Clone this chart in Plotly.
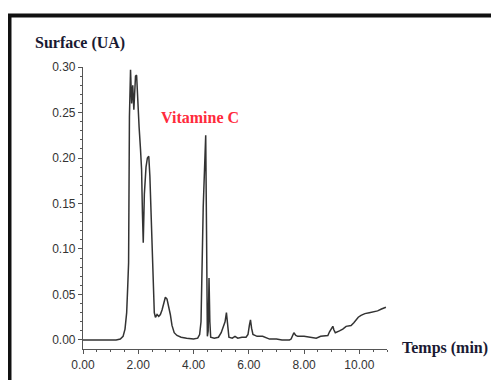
import plotly.graph_objects as go

time_min = [0.0, 1.2, 1.35, 1.45, 1.52, 1.58, 1.62, 1.65, 1.68, 1.72, 1.76, 1.80, 1.84, 1.90, 1.94,
            1.98, 2.03, 2.08, 2.12, 2.15, 2.18, 2.22, 2.28, 2.33, 2.38, 2.42, 2.45, 2.50, 2.53,
            2.58, 2.62, 2.68, 2.74, 2.80, 2.86, 2.92, 2.98, 3.04, 3.10, 3.16, 3.22, 3.30, 3.40,
            3.55, 3.75, 4.0, 4.15, 4.22, 4.27, 4.30, 4.35, 4.40, 4.44, 4.47, 4.50, 4.53, 4.56,
            4.59, 4.62, 4.75, 4.90, 5.0, 5.08, 5.14, 5.19, 5.23, 5.28, 5.40, 5.50, 5.60, 5.75,
            5.90, 5.97, 6.02, 6.06, 6.10, 6.15, 6.3, 6.5, 6.75, 7.0, 7.2, 7.47, 7.53, 7.63,
            7.70, 7.77, 8.0, 8.25, 8.44, 8.6, 8.86, 8.92, 9.0, 9.04, 9.08, 9.13, 9.28, 9.4,
            9.52, 9.7, 9.8, 9.88, 9.96, 10.06, 10.2, 10.36, 10.5, 10.66, 10.8, 10.96]
surface_ua = [0.0, 0.0, 0.001, 0.004, 0.012, 0.03, 0.06, 0.085, 0.245, 0.297, 0.26, 0.28, 0.253, 0.29, 0.291,
              0.26, 0.234, 0.21, 0.187, 0.14, 0.107, 0.16, 0.19, 0.2, 0.202, 0.18, 0.15, 0.09, 0.06,
              0.03, 0.025, 0.028, 0.026, 0.028, 0.033, 0.042, 0.047, 0.045, 0.037, 0.028, 0.016, 0.008, 0.005,
              0.003, 0.002, 0.001, 0.002, 0.006, 0.02, 0.074, 0.146, 0.19, 0.225, 0.12, 0.004, 0.01, 0.068,
              0.02, 0.003, 0.002, 0.003, 0.008, 0.014, 0.02, 0.03, 0.018, 0.003, 0.002, 0.004, 0.002, 0.003,
              0.003, 0.006, 0.016, 0.022, 0.013, 0.006, 0.004, 0.004, 0.001, 0.001, 0.0, 0.0, 0.001, 0.008,
              0.005, 0.004, 0.004, 0.003, 0.002, 0.004, 0.005, 0.009, 0.013, 0.015, 0.011, 0.008, 0.01, 0.012,
              0.015, 0.016, 0.019, 0.022, 0.025, 0.027, 0.029, 0.03, 0.031, 0.032, 0.034, 0.036]
x_ticks = [0, 2, 4, 6, 8, 10]
y_ticks = [0.0, 0.05, 0.10, 0.15, 0.20, 0.25, 0.30]

fig = go.Figure()
fig.add_trace(go.Scatter(x=time_min, y=surface_ua, mode="lines",
                         line=dict(color="#333333", width=1.5), showlegend=False))

tick_font = dict(family="Liberation Sans, Arial, sans-serif", size=12, color="#333333")
fig.update_layout(
    width=499, height=380,
    margin=dict(l=75, r=120, t=59, b=39),
    paper_bgcolor="white", plot_bgcolor="white",
    xaxis=dict(range=[0, 11.0], tickvals=x_ticks, tickformat=".2f",
               showline=True, linecolor="#555555", linewidth=1.2,
               ticks="outside", ticklen=4, tickcolor="#555555", tickwidth=1.2,
               minor=dict(dtick=0.5, ticks="outside", ticklen=2, tickcolor="#555555"),
               showgrid=False, zeroline=False, tickfont=tick_font),
    yaxis=dict(range=[-0.0099, 0.30], tickvals=y_ticks, tickformat=".2f",
               showline=True, linecolor="#555555", linewidth=1.2,
               ticks="outside", ticklen=4, tickcolor="#555555", tickwidth=1.2,
               minor=dict(dtick=0.01, tick0=0, ticks="outside", ticklen=2, tickcolor="#555555"),
               showgrid=False, zeroline=False, tickfont=tick_font),
)

serif = "Liberation Serif, Times New Roman, serif"
fig.add_annotation(text="<b>Surface (UA)</b>", xref="paper", yref="paper",
                   x=-0.165, y=1.085, xanchor="left", yanchor="middle", showarrow=False,
                   font=dict(family=serif, size=16, color="#1a1a33"))
fig.add_annotation(text="<b>Temps (min)</b>", xref="paper", yref="paper",
                   x=1.043, y=0.0035, xanchor="left", yanchor="middle", showarrow=False,
                   font=dict(family=serif, size=16, color="#1a1a33"))
fig.add_annotation(text="<b>Vitamine C</b>", xref="x", yref="y",
                   x=2.75, y=0.244, xanchor="left", yanchor="middle", showarrow=False,
                   font=dict(family=serif, size=16, color="#ff2a3c"))

# outer frame (left and top edges visible)
fig.add_shape(type="line", xref="paper", yref="paper", x0=-0.2418, y0=-0.5, x1=-0.2418, y1=1.1826,
              line=dict(color="#111111", width=4))
fig.add_shape(type="line", xref="paper", yref="paper", x0=-0.2484, y0=1.1826, x1=2.0, y1=1.1826,
              line=dict(color="#111111", width=4))

fig.write_html("out.html")
